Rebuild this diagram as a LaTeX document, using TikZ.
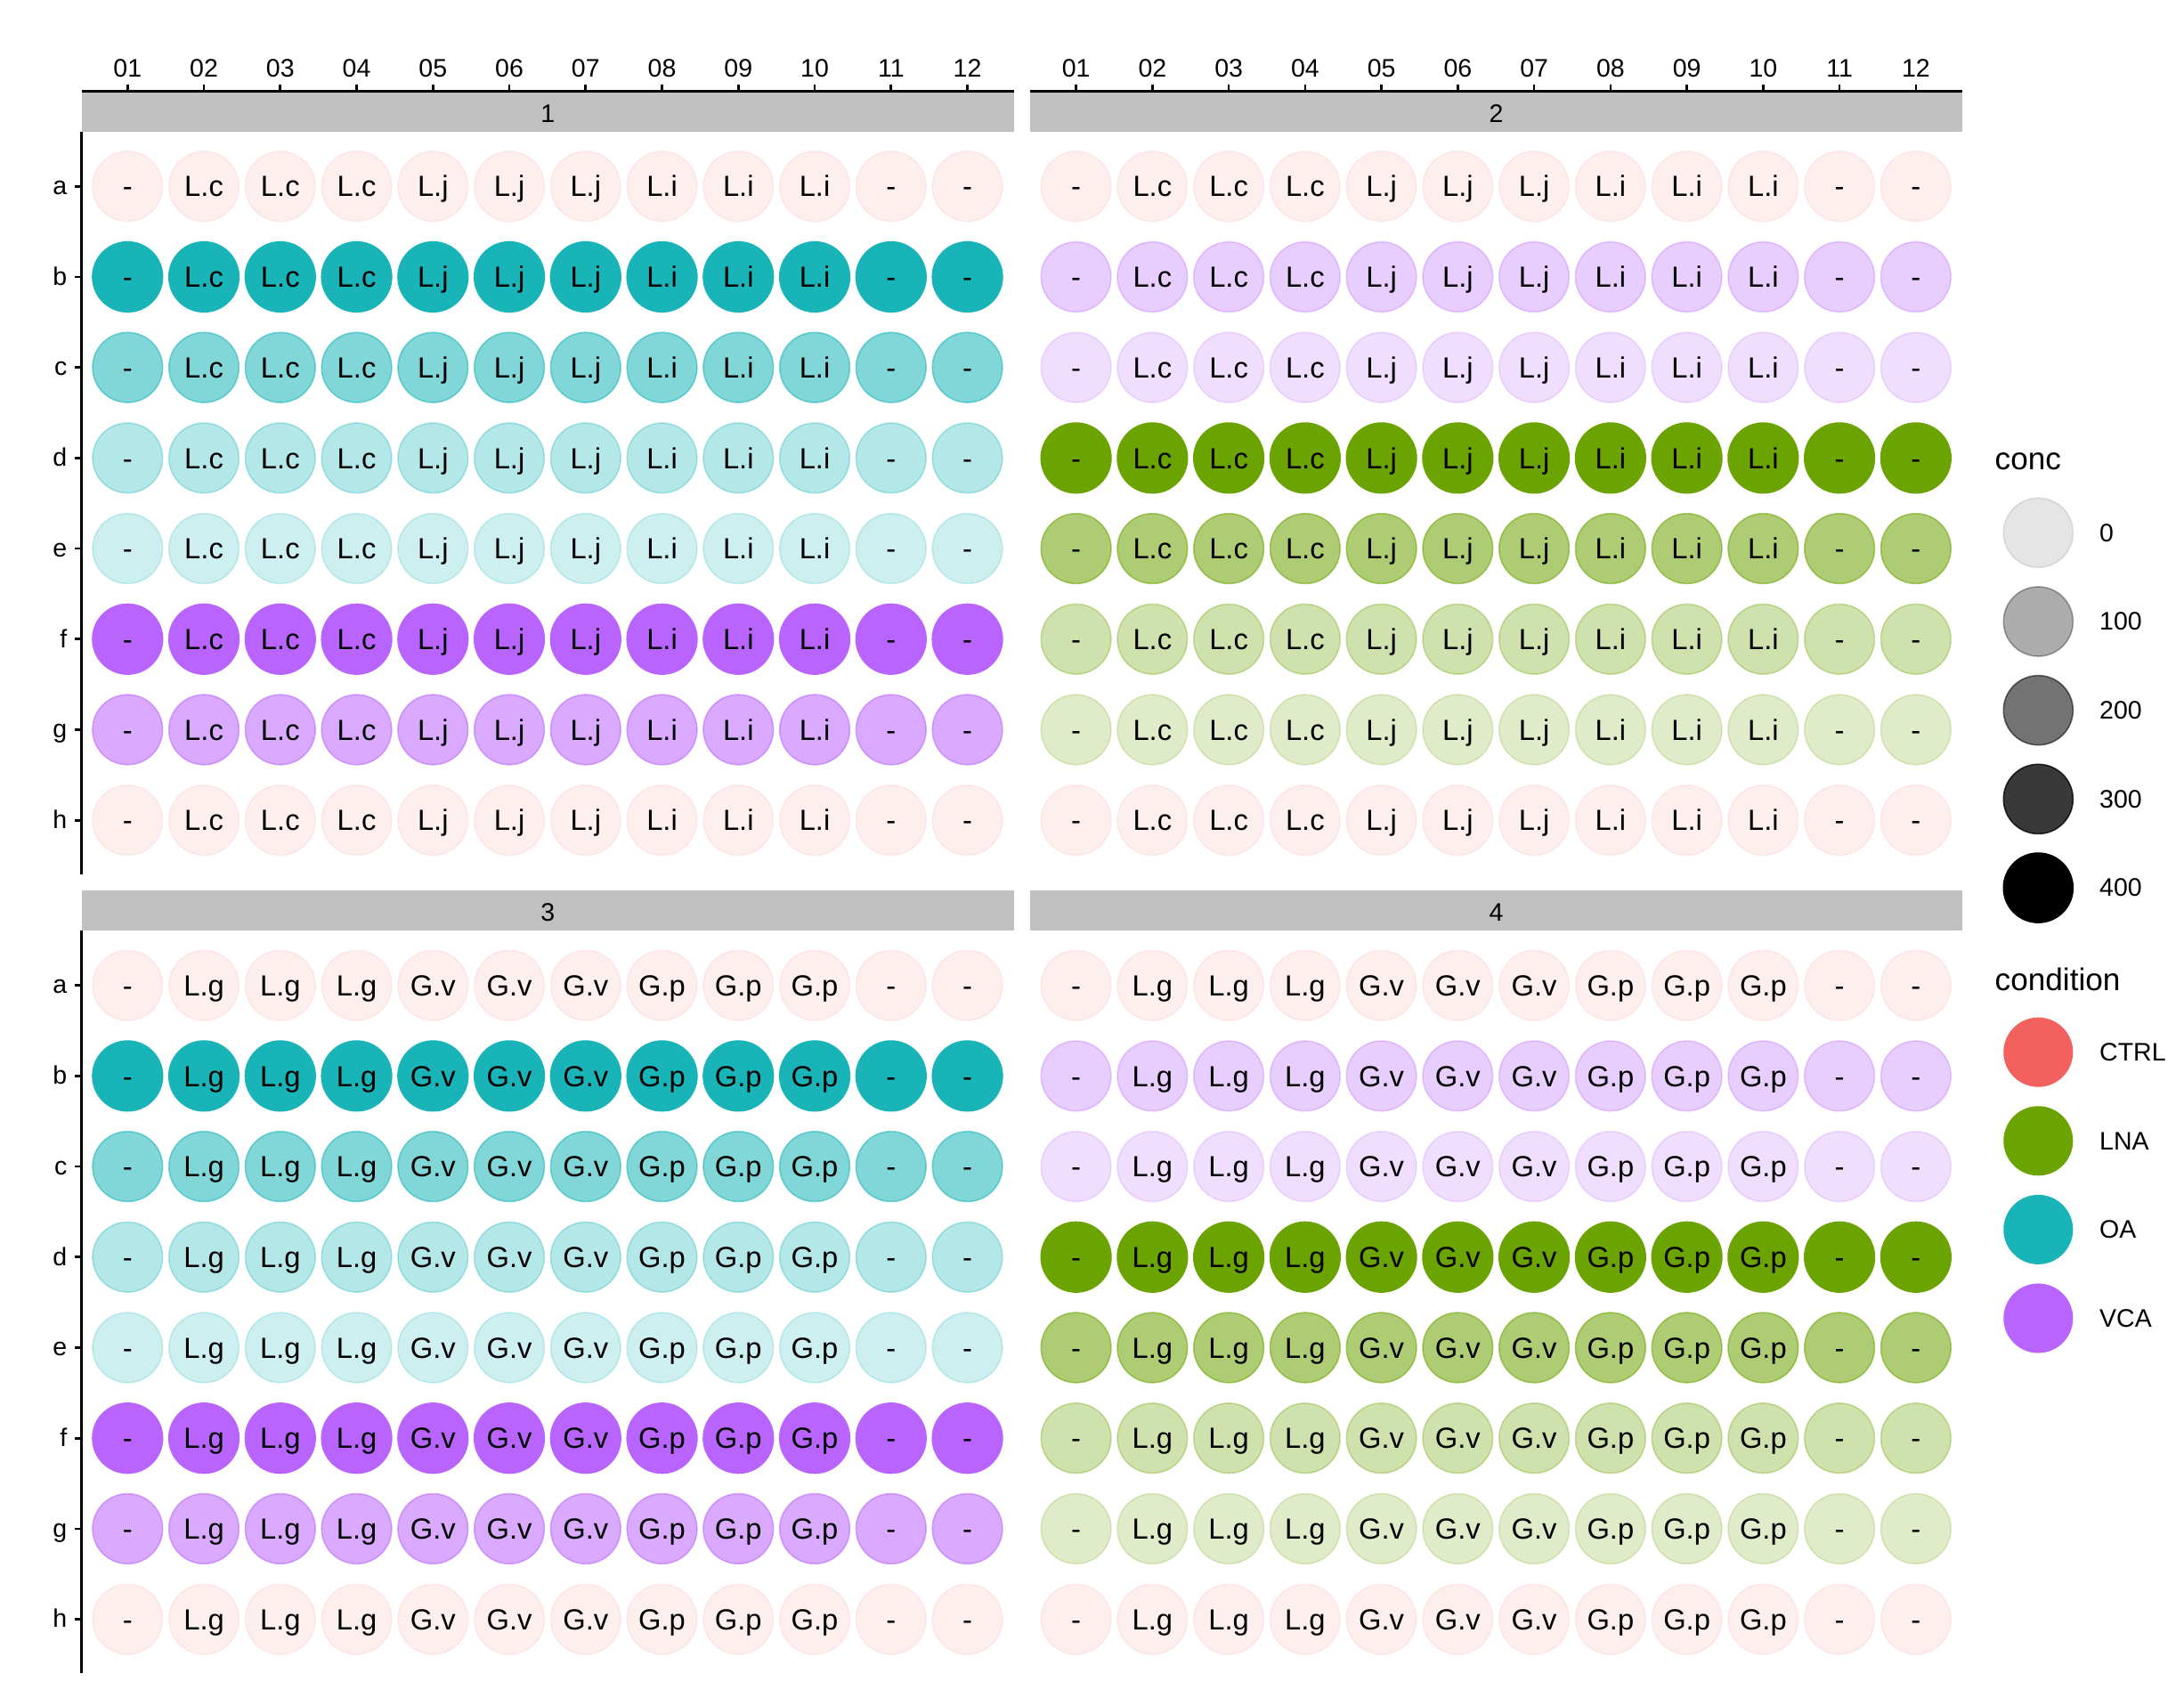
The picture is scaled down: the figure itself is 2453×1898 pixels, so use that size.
\documentclass[tikz,border=0pt]{standalone}
\usepackage{fontspec}
\setmainfont{Liberation Sans}
\usetikzlibrary{positioning}
\usepackage{xcolor}

\definecolor{ctrl}{HTML}{F3615F}
\definecolor{lna}{HTML}{6BA300}
\definecolor{oa}{HTML}{19B4B8}
\definecolor{vca}{HTML}{B964FF}
\definecolor{stripgray}{HTML}{C0C0C0}

\newcommand{\axfont}{\fontsize{8.1}{9.7}\selectfont}
\newcommand{\wellfont}{\fontsize{9.3}{11}\selectfont}
\newcommand{\legtitlefont}{\fontsize{10}{12}\selectfont}

% row / condition / alpha
\def\rowsL{a/ctrl/0.1, b/oa/1, c/oa/0.55, d/oa/0.325, e/oa/0.2125, f/vca/1, g/vca/0.55, h/ctrl/0.1}
\def\rowsR{a/ctrl/0.1, b/vca/0.325, c/vca/0.2125, d/lna/1, e/lna/0.55, f/lna/0.325, g/lna/0.2125, h/ctrl/0.1}
% column / label
\def\labsT{01/-, 02/L.c, 03/L.c, 04/L.c, 05/L.j, 06/L.j, 07/L.j, 08/L.i, 09/L.i, 10/L.i, 11/-, 12/-}
\def\labsB{01/-, 02/L.g, 03/L.g, 04/L.g, 05/G.v, 06/G.v, 07/G.v, 08/G.p, 09/G.p, 10/G.p, 11/-, 12/-}

% panel id, x shift, y shift, rows, labels
\newcommand{\platepanel}[5]{
  \fill[stripgray] (91.5+#2,102.7+#3) rectangle (1139+#2,147.7+#3);
  \node[axlab, anchor=base] (strip#1) at (615.25+#2,137.3+#3) {#1};
  \foreach \r/\cl/\al [count=\i from 0] in #4 {
    \foreach \c/\lab [count=\j from 0] in #5 {
      \pgfmathsetmacro\wx{143.3+#2+\j*85.75}
      \pgfmathsetmacro\wy{209.3+#3+\i*101.7}
      \node[well, fill=\cl, draw=\cl, fill opacity=\al, draw opacity=\al]
        (p#1-\r-\c) at (\wx,\wy) {\lab};
    }
  }
}

\begin{document}
\begin{tikzpicture}[
  x=0.01cm, y=-0.01cm,
  well/.style={circle, minimum size=0.786cm, inner sep=0pt, line width=0.45pt,
               text height=6.66pt, text depth=0pt,
               text=black, text opacity=1, font=\wellfont},
  axlab/.style={inner sep=0pt, font=\axfont},
  axline/.style={line width=0.75pt, black},
  legtitle/.style={inner sep=0pt, font=\legtitlefont, anchor=base west},
  legkey/.style={circle, minimum size=0.78cm, inner sep=0pt, line width=0.45pt}
]
  \useasboundingbox (0,0) rectangle (2453,1898);

  % panels
  \platepanel{1}{0}{0}{\rowsL}{\labsT}
  \platepanel{2}{1065.3}{0}{\rowsR}{\labsT}
  \platepanel{3}{0}{897.4}{\rowsL}{\labsB}
  \platepanel{4}{1065.3}{897.4}{\rowsR}{\labsB}

  % top axes
  \foreach \px in {0,1065.3} {
    \draw[axline] (91.5+\px,102.7) -- (1139+\px,102.7);
    \foreach \c [count=\j from 0] in {01,02,03,04,05,06,07,08,09,10,11,12} {
      \pgfmathsetmacro\wx{143.3+\px+\j*85.75}
      \draw[axline] (\wx,94.7) -- (\wx,102.7);
      \node[axlab, anchor=base] (col\px-\c) at (\wx,86.7) {\c};
    }
  }

  % left axes
  \foreach \py in {0,897.4} {
    \draw[axline] (91.5,147.7+\py) -- (91.5,982+\py);
    \foreach \r [count=\i from 0] in {a,b,c,d,e,f,g,h} {
      \pgfmathsetmacro\wy{209.3+\py+\i*101.7}
      \draw[axline] (83.5,\wy) -- (91.5,\wy);
      \node[axlab, anchor=mid east] (row\py-\r) at (76,\wy) {\r};
    }
  }

  % legend: conc
  \node[legtitle] (conctitle) at (2240,528) {conc};
  \foreach \v/\al [count=\i from 0] in {0/0.1, 100/0.325, 200/0.55, 300/0.775, 400/1} {
    \pgfmathsetmacro\ky{598.3+\i*99.7}
    \node[legkey, fill=black, draw=black, fill opacity=\al, draw opacity=\al]
      (conc\v) at (2289.3,\ky) {};
    \node[axlab, right=0.284cm of conc\v] (conclab\v) {\v};
  }

  % legend: condition
  \node[legtitle] (condtitle) at (2240,1113) {condition};
  \foreach \cl/\name [count=\i from 0] in {ctrl/CTRL, lna/LNA, oa/OA, vca/VCA} {
    \pgfmathsetmacro\ky{1181.7+\i*99.6}
    \node[legkey, fill=\cl] (cond\name) at (2289.3,\ky) {};
    \node[axlab, right=0.284cm of cond\name] (condlab\name) {\name};
  }
\end{tikzpicture}
\end{document}
